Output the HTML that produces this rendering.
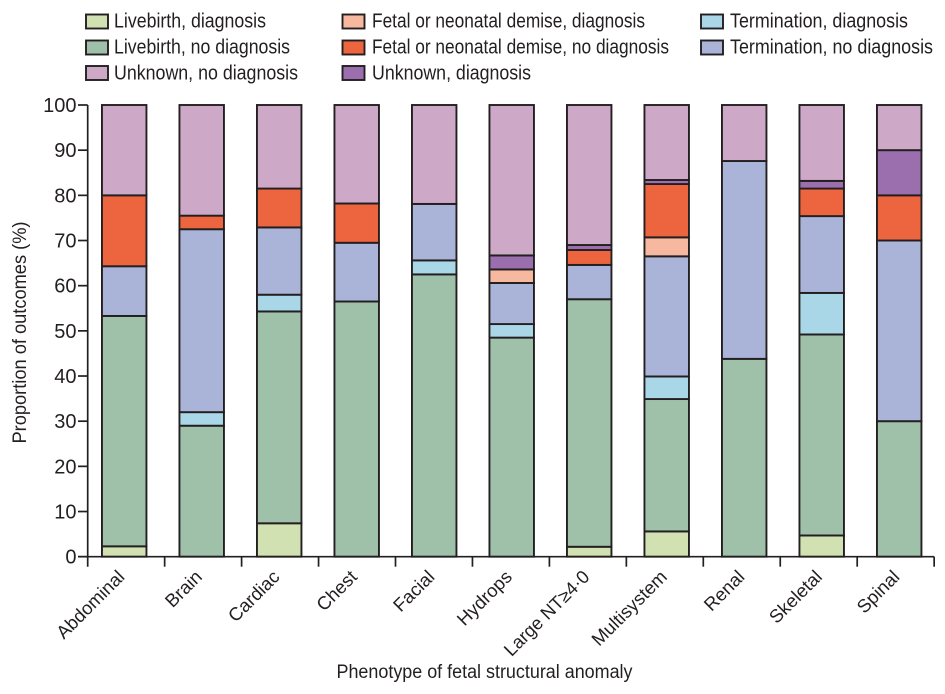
<!DOCTYPE html>
<html>
<head>
<meta charset="utf-8">
<style>
html,body{margin:0;padding:0;background:#fff;}
svg{display:block;}
text{font-family:"Liberation Sans","DejaVu Sans",sans-serif;fill:#231f20;}
</style>
</head>
<body>
<svg id="chart" xmlns="http://www.w3.org/2000/svg" width="945" height="694" viewBox="0 0 945 694">
  <g id="legend"></g>
  <g id="bars"></g>
  <g id="axes"></g>
  <text transform="translate(26,332.5) rotate(-90)" text-anchor="middle" font-size="19" textLength="222" lengthAdjust="spacingAndGlyphs">Proportion of outcomes (%)</text>
  <text x="484.5" y="678" text-anchor="middle" font-size="19" textLength="296" lengthAdjust="spacingAndGlyphs">Phenotype of fetal structural anomaly</text>
</svg>
<script>
const categories = ["Abdominal","Brain","Cardiac","Chest","Facial","Hydrops","Large NT\u22654\u00b70","Multisystem","Renal","Skeletal","Spinal"];
const yTicks = [0,10,20,30,40,50,60,70,80,90,100];
const livebirthDiagnosis     = [2.3, 0,   7.4, 0,   0,   0,   2.2,  5.6,  0,    4.7, 0];
const livebirthNoDiagnosis   = [51,  29,  46.9,56.5,62.5,48.5,54.8, 29.3, 43.8, 44.5,30];
const terminationDiagnosis   = [0,   3,   3.7, 0,   3.1, 3,   0,    5,    0,    9.2, 0];
const terminationNoDiagnosis = [11,  40.5,14.9,13,  12.5,9.1, 7.6,  26.6, 43.8, 17,  40];
const fetalDiagnosis         = [0,   0,   0,   0,   0,   3,   0,    4.2,  0,    0,   0];
const fetalNoDiagnosis       = [15.7,3,   8.6, 8.7, 0,   0,   3.3,  11.8, 0,    6.1, 10];
const unknownDiagnosis       = [0,   0,   0,   0,   0,   3.1, 1.1,  0.9,  0,    1.7, 10];
const unknownNoDiagnosis     = [20,  24.5,18.5,21.8,21.9,33.3,31,   16.6, 12.4, 16.8,10];

const seriesOrder = [
  {key:"livebirth-diagnosis", label:"Livebirth, diagnosis", values:livebirthDiagnosis, color:"#d1e1b1"},
  {key:"livebirth-no-diagnosis", label:"Livebirth, no diagnosis", values:livebirthNoDiagnosis, color:"#a0c1a9"},
  {key:"termination-diagnosis", label:"Termination, diagnosis", values:terminationDiagnosis, color:"#a9d7e7"},
  {key:"termination-no-diagnosis", label:"Termination, no diagnosis", values:terminationNoDiagnosis, color:"#aab4d8"},
  {key:"fetal-diagnosis", label:"Fetal or neonatal demise, diagnosis", values:fetalDiagnosis, color:"#f6b89e"},
  {key:"fetal-no-diagnosis", label:"Fetal or neonatal demise, no diagnosis", values:fetalNoDiagnosis, color:"#ec653f"},
  {key:"unknown-diagnosis", label:"Unknown, diagnosis", values:unknownDiagnosis, color:"#9b6fae"},
  {key:"unknown-no-diagnosis", label:"Unknown, no diagnosis", values:unknownNoDiagnosis, color:"#cea9c7"}
];

const NS = "http://www.w3.org/2000/svg";
const INK = "#231f20";
const yScale = v => 556.7 - v * 4.517;
const barCenter = i => 124.2 + i * 77.5;
const tickX = i => 87.7 + i * 76.95;
const barWidth = 44.5;

function make(tag, attrs, parent) {
  const el = document.createElementNS(NS, tag);
  for (const k in attrs) el.setAttribute(k, attrs[k]);
  parent.appendChild(el);
  return el;
}

/* bars */
const barsG = document.getElementById("bars");
categories.forEach((cat, i) => {
  let cum = 0;
  seriesOrder.forEach(s => {
    const v = s.values[i];
    if (v <= 0) return;
    const y1 = yScale(cum + v), y0 = yScale(cum);
    const r = make("rect", {x: barCenter(i) - barWidth / 2, y: y1, width: barWidth, height: y0 - y1, fill: s.color, stroke: INK, "stroke-width": 1.9}, barsG);
    
    
    cum += v;
  });
});

/* axes */
const axesG = document.getElementById("axes");
const yLine = make("line", {x1: tickX(0), x2: tickX(0), y1: yScale(100), y2: 566.7, stroke: INK, "stroke-width": 1.7}, axesG);


const xLine = make("line", {x1: 78, x2: tickX(categories.length), y1: yScale(0), y2: yScale(0), stroke: INK, "stroke-width": 1.7}, axesG);



yTicks.forEach(t => {
  const tk = make("line", {x1: 78, x2: tickX(0), y1: yScale(t), y2: yScale(t), stroke: INK, "stroke-width": 1.7}, axesG);
  
  
  const lb = make("text", {x: 76.5, y: yScale(t) + 7, "text-anchor": "end", "font-size": 20}, axesG);
  
  
  lb.textContent = t;
});

for (let i = 1; i <= categories.length; i++) {
  const tk = make("line", {x1: tickX(i), x2: tickX(i), y1: yScale(0), y2: 566.7, stroke: INK, "stroke-width": 1.7}, axesG);
  
  
}

categories.forEach((cat, i) => {
  const x = barCenter(i) + 1.5, y = 578;
  const lb = make("text", {transform: "translate(" + x + "," + y + ") rotate(-45)", "text-anchor": "end", "font-size": 18.5}, axesG);
  
  
  lb.textContent = cat;
  const natural = lb.getComputedTextLength();
  if (natural > 112) {
    lb.setAttribute("textLength", 112);
    lb.setAttribute("lengthAdjust", "spacingAndGlyphs");
  }
});

/* legend */
const legendRows = [
  ["livebirth-diagnosis", 86, 14.5, 114, 27.5, 152],
  ["livebirth-no-diagnosis", 86, 40.5, 114, 53.5, 176],
  ["unknown-no-diagnosis", 86, 66, 114, 79.5, 184],
  ["fetal-diagnosis", 342.5, 14.5, 372, 27.5, 273],
  ["fetal-no-diagnosis", 342.5, 40.5, 372, 53.5, 297],
  ["unknown-diagnosis", 342.5, 66, 372, 79.5, 159],
  ["termination-diagnosis", 701, 14.5, 730, 27.5, 178],
  ["termination-no-diagnosis", 701, 40.5, 730, 53.5, 203]
];
const legendG = document.getElementById("legend");
legendRows.forEach(row => {
  const s = seriesOrder.find(o => o.key === row[0]);
  const sw = make("rect", {x: row[1], y: row[2], width: 22, height: 14, fill: s.color, stroke: INK, "stroke-width": 1.9}, legendG);
  
  
  const tx = make("text", {x: row[3], y: row[4], "font-size": 20, textLength: row[5], lengthAdjust: "spacingAndGlyphs"}, legendG);
  
  
  tx.textContent = s.label;
});
</script>
</body>
</html>
